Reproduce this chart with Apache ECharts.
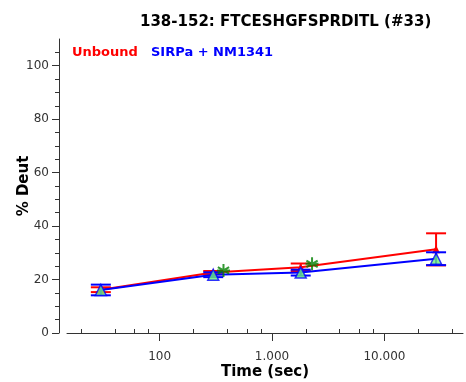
<!DOCTYPE html>
<html>
<head>
<meta charset="utf-8">
<script src="https://cdn.jsdelivr.net/npm/echarts@6/dist/echarts.min.js"></script>
<style>
  html, body { margin: 0; padding: 0; background: #fff; }
  #chart { width: 466px; height: 382px; }
</style>
</head>
<body>
<div id="chart"></div>
<script>
// Exchange times (s) and deuterium uptake (%) for peptide 138-152
const times = [30, 300, 1800, 28800];
const unboundMean = [16.2, 22.6, 24.6, 31.3];
const unboundErr = [0.9, 0.6, 1.4, 6.0];
const boundMean = [16.1, 21.8, 22.6, 27.8];
const boundErr = [2.0, 0.9, 1.1, 2.4];
const starTimes = [370, 2270];
const starValues = [23.4, 25.9];

const xMajorTicks = [100, 1000, 10000];
const xMinorTicks = [20, 40, 60, 80, 200, 400, 600, 800, 2000, 4000, 6000, 8000, 20000, 40000];
const yMajorTicks = [0, 20, 40, 60, 80, 100];
const yMinorTicks = [5, 10, 15, 25, 30, 35, 45, 50, 55, 65, 70, 75, 85, 90, 95, 105];

const FONT = 'DejaVu Sans';
const AXIS_COLOR = '#333';

function pairs(xs, ys) { return xs.map((x, i) => [x, ys[i]]); }

function errorBarSeries(means, errs, color, z) {
  return {
    type: 'custom',
    z: z,
    data: times.map((t, i) => [t, means[i] - errs[i], means[i] + errs[i]]),
    renderItem: function (params, api) {
      const lo = api.coord([api.value(0), api.value(1)]);
      const hi = api.coord([api.value(0), api.value(2)]);
      const half = 10;
      const style = { stroke: color, lineWidth: 2 };
      return {
        type: 'group',
        children: [
          { type: 'line', shape: { x1: lo[0], y1: lo[1], x2: hi[0], y2: hi[1] }, style: style },
          { type: 'line', shape: { x1: lo[0] - half, y1: lo[1], x2: lo[0] + half, y2: lo[1] }, style: style },
          { type: 'line', shape: { x1: hi[0] - half, y1: hi[1], x2: hi[0] + half, y2: hi[1] }, style: style }
        ]
      };
    }
  };
}

const logAxisBase = {
  type: 'log',
  min: 15,
  max: 50000,
  offset: 7,
  splitLine: { show: false },
  minorTick: { show: false },
  minorSplitLine: { show: false }
};

const valueAxisBase = {
  type: 'value',
  min: 0,
  max: 110,
  interval: 20,
  offset: 8,
  splitLine: { show: false }
};

const option = {
  animation: false,
  backgroundColor: '#fff',
  title: {
    text: '138-152: FTCESHGFSPRDITL (#33)',
    left: 135,
    top: 10,
    textStyle: { fontFamily: FONT, fontWeight: 'bold', fontSize: 15, color: '#000' }
  },
  graphic: [
    { type: 'text', left: 72, top: 46, style: { text: 'Unbound', fill: '#ff0000', font: 'bold 13px "DejaVu Sans"' } },
    { type: 'text', left: 151, top: 46, style: { text: 'SIRPa + NM1341', fill: '#0000ff', font: 'bold 13px "DejaVu Sans"' } }
  ],
  grid: { left: 67, right: 3, top: 39, bottom: 49, outerBoundsMode: 'none', containLabel: false },
  xAxis: [
    Object.assign({}, logAxisBase, {
      name: 'Time (sec)',
      nameLocation: 'middle',
      nameGap: 25,
      nameMoveOverlap: false,
      nameTextStyle: { fontFamily: FONT, fontWeight: 'bold', fontSize: 15, color: '#000' },
      axisLine: { show: true, lineStyle: { color: AXIS_COLOR, width: 1 } },
      axisTick: { show: true, length: 8, customValues: xMajorTicks, lineStyle: { color: AXIS_COLOR } },
      axisLabel: {
        customValues: xMajorTicks,
        fontFamily: FONT, fontSize: 12, color: '#333', margin: 11,
        formatter: v => Number(v).toLocaleString('de-DE')
      }
    }),
    Object.assign({}, logAxisBase, {
      axisLine: { show: false },
      axisTick: { show: true, length: 4, customValues: xMinorTicks, lineStyle: { color: AXIS_COLOR } },
      axisLabel: { show: false }
    })
  ],
  yAxis: [
    Object.assign({}, valueAxisBase, {
      name: '% Deut',
      nameLocation: 'middle',
      nameGap: 27,
      nameMoveOverlap: false,
      nameTextStyle: { fontFamily: FONT, fontWeight: 'bold', fontSize: 15, color: '#000' },
      axisLine: { show: true, lineStyle: { color: AXIS_COLOR, width: 1 } },
      axisTick: { show: true, length: 7, customValues: yMajorTicks, lineStyle: { color: AXIS_COLOR } },
      axisLabel: { customValues: yMajorTicks, fontFamily: FONT, fontSize: 12, color: '#333', margin: 10 }
    }),
    Object.assign({}, valueAxisBase, {
      position: 'left',
      axisLine: { show: false },
      axisTick: { show: true, length: 4, customValues: yMinorTicks, lineStyle: { color: AXIS_COLOR } },
      axisLabel: { show: false }
    })
  ],
  series: [
    {
      name: 'Unbound', type: 'line', z: 2,
      data: pairs(times, unboundMean),
      lineStyle: { color: '#ff0000', width: 2 },
      itemStyle: { color: '#ff0000' },
      symbol: 'triangle', symbolSize: 8
    },
    errorBarSeries(unboundMean, unboundErr, '#ff0000', 3),
    {
      name: 'SIRPa + NM1341', type: 'line', z: 4,
      data: pairs(times, boundMean),
      lineStyle: { color: '#0000ff', width: 2 },
      symbol: 'none'
    },
    errorBarSeries(boundMean, boundErr, '#0000ff', 5),
    {
      type: 'scatter', z: 6,
      data: pairs(times, boundMean),
      symbol: 'triangle', symbolSize: [11, 11],
      itemStyle: { color: '#6cf27a', borderColor: '#0000ff', borderWidth: 1.5 }
    },
    {
      type: 'scatter', z: 7,
      data: pairs(starTimes, starValues),
      symbol: 'path://M0,-10L0,10M-8.66,-5L8.66,5M-8.66,5L8.66,-5M-10,0L10,0',
      symbolSize: 13,
      itemStyle: { color: 'rgba(0,0,0,0)', borderColor: '#008000', borderWidth: 2 }
    }
  ]
};

const chart = echarts.init(document.getElementById('chart'), null, { renderer: 'canvas' });
chart.setOption(option);
</script>
</body>
</html>
